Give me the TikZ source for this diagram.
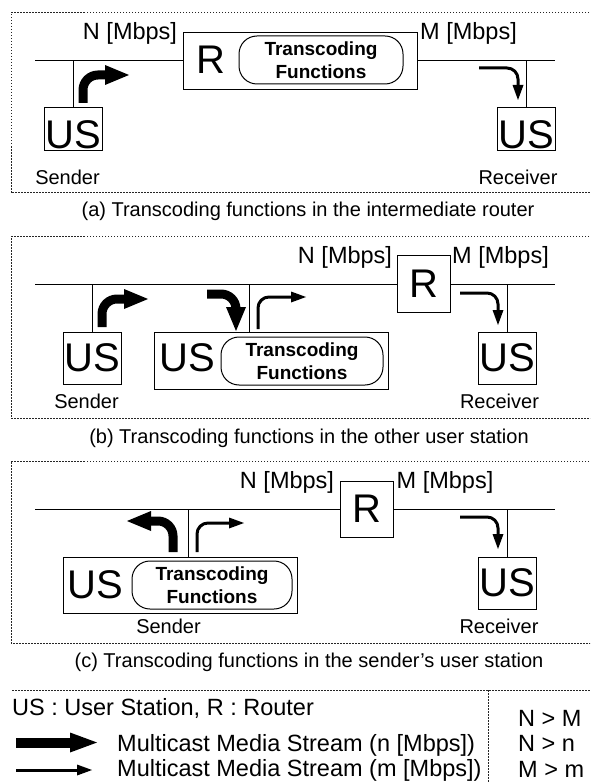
\documentclass[tikz,border=0pt]{standalone}
\usepackage{fontspec}
\setmainfont{Liberation Sans}
\usetikzlibrary{arrows.meta}
\newcommand\myBig{\fontsize{40}{44}\selectfont}
\newcommand\myLbl{\fontsize{23.5}{28}\selectfont}
\newcommand\myCap{\fontsize{20}{24}\selectfont}
\newcommand\mySnd{\fontsize{20}{24}\selectfont}
\newcommand\myTf{\fontsize{19}{23}\selectfont\bfseries}
\begin{document}
\begin{tikzpicture}[x=1pt,y=-1pt,
  ln/.style={line width=1pt},
  box/.style={draw, line width=1pt, inner sep=0pt},
  usbox/.style={box, minimum width=58pt, minimum height=52pt, font=\myBig},
  tfbox/.style={draw, line width=1pt, rounded corners=18pt, minimum width=162pt, minimum height=48pt, align=center, font=\myTf, inner sep=0pt},
  big/.style={font=\myBig, inner sep=0pt},
  lbl/.style={font=\myLbl, inner sep=0pt, anchor=base},
  snd/.style={font=\mySnd, inner sep=0pt, anchor=base},
  captxt/.style={font=\myCap, inner sep=0pt, anchor=base},
  leg/.style={font=\myLbl, inner sep=0pt, anchor=base west},
  thickarr/.style={line width=9pt, -{Triangle[length=24pt,width=20pt,line width=0pt]}, rounded corners=15pt},
  thinarr/.style={line width=3pt, -{Triangle[length=15pt,width=11pt,line width=0pt]}, rounded corners=11pt},
  dotline/.style={line width=1pt, dash pattern=on 1.5pt off 1.5pt, black!85},
]
\useasboundingbox (0,0) rectangle (590,783);
\clip (0,0) rectangle (590,783);

% ---------------- panel (a)
\draw[dotline] (595,13) -- (11,13) -- (11,193) -- (595,193);
\node[box, minimum width=234pt, minimum height=57pt] (Ra) at (300,61) {};
\node[big] (Rat) at (210.5,60) {R};
\node[tfbox, minimum width=164pt] (TFa) at (321,60) {Transcoding\\Functions};
\node[usbox, minimum height=43pt] (USa1) at (73,129.5) {};
\node[big] (USa1t) at (73,135) {US};
\node[usbox, minimum height=43pt] (USa2) at (526,129.5) {};
\node[big] (USa2t) at (526,135) {US};
\coordinate (busa0) at (35,61);
\coordinate (busa1) at (555,61);
\draw[ln] (busa0) -- (Ra.west);
\draw[ln] (Ra.east) -- (busa1);
\draw[ln] (USa1.north) -- (USa1.north |- busa0);
\draw[ln] (USa2.north) -- (USa2.north |- busa1);
\draw[thickarr] (83,103) |- (129,75);
\draw[thinarr] (479,68) -| (518,100);
\node[lbl] at (130,39.3) {N [Mbps]};
\node[lbl] at (468.5,39.3) {M [Mbps]};
\node[snd] at (67.5,185) {Sender};
\node[snd] at (518,185) {Receiver};
\node[captxt] at (308,217) {(a) Transcoding functions in the intermediate router};

% ---------------- panel (b)
\draw[dotline] (595,237) -- (11,237) -- (11,418) -- (595,418);
\node[box, minimum width=53pt, minimum height=57pt, font=\myBig] (Rb) at (423.5,284) {R};
\node[usbox] (USb1) at (92,358) {US};
\node[box, minimum width=234pt, minimum height=57pt] (Mb) at (271,360.5) {};
\node[big] (Mbt) at (187,358) {US};
\node[tfbox] (TFb) at (302,361) {Transcoding\\Functions};
\node[usbox] (USb2) at (507,358) {US};
\coordinate (busb0) at (35,284);
\coordinate (busb1) at (555,284);
\coordinate (tapb) at (249,284);
\draw[ln] (busb0) -- (Rb.west);
\draw[ln] (Rb.east) -- (busb1);
\draw[ln] (USb1.north) -- (USb1.north |- busb0);
\draw[ln] (USb2.north) -- (USb2.north |- busb1);
\draw[ln] (tapb) -- (tapb |- Mb.north);
\draw[thickarr] (102,327) |- (148,299);
\draw[thickarr] (207,294) -| (236,331);
\draw[thinarr] (258,329) |- (306,297);
\draw[thinarr] (460,293) -| (498,325);
\node[lbl] at (345,263) {N [Mbps]};
\node[lbl] at (500.5,263) {M [Mbps]};
\node[snd] at (86.5,408) {Sender};
\node[snd] at (499.5,408) {Receiver};
\node[captxt] at (309,443) {(b) Transcoding functions in the other user station};

% ---------------- panel (c)
\draw[dotline] (595,461) -- (11,461) -- (11,643) -- (595,643);
\node[box, minimum width=53pt, minimum height=56pt, font=\myBig] (Rc) at (366.5,509) {R};
\node[box, minimum width=234pt, minimum height=56pt] (Sc) at (180,585) {};
\node[big] (Sct) at (95,585) {US};
\node[tfbox, minimum width=160pt] (TFc) at (212,585) {Transcoding\\Functions};
\node[usbox] (USc2) at (507,583) {US};
\coordinate (busc0) at (35,509);
\coordinate (busc1) at (555,509);
\coordinate (tapc) at (188,509);
\draw[ln] (busc0) -- (Rc.west);
\draw[ln] (Rc.east) -- (busc1);
\draw[ln] (tapc) -- (tapc |- Sc.north);
\draw[ln] (USc2.north) -- (USc2.north |- busc1);
\draw[thickarr] (173,552) |- (127,521);
\draw[thinarr] (197,552) |- (244,523);
\draw[thinarr] (460,517) -| (498,549);
\node[lbl] at (287,488) {N [Mbps]};
\node[lbl] at (445,488) {M [Mbps]};
\node[snd] at (168.5,633) {Sender};
\node[snd] at (499,633) {Receiver};
\node[captxt] at (309,667) {(c) Transcoding functions in the sender’s user station};

% ---------------- legend
\draw[dotline] (12,690) -- (595,690);
\draw[dotline] (488,690) -- (488,790);
\node[leg] at (12,715) {US : User Station, R : Router};
\draw[line width=10pt, -{Triangle[length=27pt,width=20pt,line width=0pt]}] (16,742.5) -- (97,742.5);
\draw[line width=3pt, -{Triangle[length=15pt,width=11pt,line width=0pt]}] (16,770) -- (92,770);
\node[leg] at (117,751.7) {Multicast Media Stream (n [Mbps])};
\node[leg] at (117,776) {Multicast Media Stream (m [Mbps])};
\node[leg] at (518,726) {N > M};
\node[leg] at (518,751.5) {N > n};
\node[leg] at (518,777) {M > m};
\end{tikzpicture}
\end{document}
